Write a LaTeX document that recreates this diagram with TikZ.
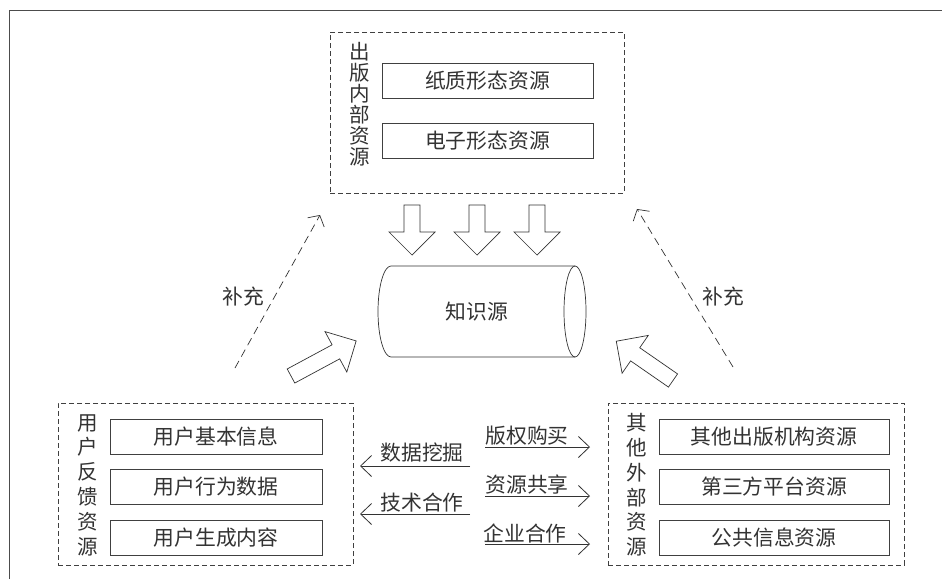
\documentclass[tikz,border=0pt]{standalone}
\usepackage{fontspec}
\setmainfont{Noto Sans CJK SC}
\usetikzlibrary{arrows.meta}
\newcommand\fatarrow[4]{%
  \begin{scope}[shift={(#1,#2)},rotate=#3]
    \draw[fatline] (0,-8) -- ({#4-23},-8) -- ({#4-23},-23) -- (#4,0) -- ({#4-23},23) -- ({#4-23},8) -- (0,8) -- cycle;
  \end{scope}}
\tikzset{
  txt/.style={font=\fontsize{20.8}{24}\selectfont, text=black!80, inner sep=0pt},
  inbox/.style={draw=black!75, line width=0.9pt, minimum height=35pt, font=\fontsize{20.8}{24}\selectfont, text=black!80, inner sep=0pt},
  grp/.style={draw=black!75, line width=0.8pt, dash pattern=on 5pt off 3pt, inner sep=0pt},
  fatline/.style={draw=black!80, line width=0.7pt, fill=white, line join=miter},
  dasharr/.style={draw=black!80, line width=0.7pt, dash pattern=on 8pt off 5pt, -{Straight Barb[length=8pt,width=19pt]}},
  midarr/.style={draw=black!80, line width=0.8pt, -{Straight Barb[length=11pt,width=21pt]}},
  vlab/.style={font=\fontsize{20.5}{21}\selectfont, text=black!80, align=center, inner sep=0pt},
  vlabb/.style={font=\fontsize{20.5}{24.8}\selectfont, text=black!80, align=center, inner sep=0pt}
}
\begin{document}
\begin{tikzpicture}[x=1pt,y=-1pt]
\useasboundingbox (0,0) rectangle (942,579);
\fill[white] (0,0) rectangle (942,579);
% outer frame
\draw[black!70, line width=0.9pt] (9,579) -- (9,10) -- (942,10);

% top group
\node[grp, minimum width=294pt, minimum height=161pt] (gtop) at (477,112.5) {};
\node[vlab] (ltop) at (360,104.5) {出\\版\\内\\部\\资\\源};
\node[inbox, minimum width=211pt] (p1) at (487.5,80.5) {纸质形态资源};
\node[inbox, minimum width=211pt] (p2) at (487.5,140.5) {电子形态资源};

% cylinder
\draw[black!80, line width=0.7pt] (575,266) -- (391,266) arc[start angle=90, end angle=270, x radius=13pt, y radius=45.5pt] -- (575,357);
\draw[black!80, line width=0.7pt] (575,311.5) ellipse [x radius=11pt, y radius=45.5pt];
\node[txt] (kn) at (477,311.5) {知识源};

% fat arrows
\fatarrow{412}{205}{-90}{50}
\fatarrow{477}{205}{-90}{50}
\fatarrow{537}{205}{-90}{50}
\fatarrow{291}{376}{28.3}{74}
\fatarrow{673}{380.5}{145.3}{69}

% dashed arrows
\coordinate (d1s) at (235,368);
\coordinate (d1e) at (320,215);
\coordinate (d2s) at (733,367);
\coordinate (d2e) at (637,209);
\draw[dasharr] (d1s) -- (d1e);
\draw[dasharr] (d2s) -- (d2e);
\node[txt] (b1) at (243,297) {补充};
\node[txt] (b2) at (723,297) {补充};

% bottom-left group
\node[grp, minimum width=295pt, minimum height=162pt] (gleft) at (205.5,484) {};
\node[vlabb] (lleft) at (88,485) {用\\户\\反\\馈\\资\\源};
\node[inbox, minimum width=212pt] (u1) at (216,436.5) {用户基本信息};
\node[inbox, minimum width=212pt] (u2) at (216,486.5) {用户行为数据};
\node[inbox, minimum width=212pt] (u3) at (216,537.5) {用户生成内容};

% bottom-right group
\node[grp, minimum width=296pt, minimum height=162pt] (gright) at (756,484) {};
\node[vlabb] (lright) at (637,485) {其\\他\\外\\部\\资\\源};
\node[inbox, minimum width=230pt] (o1) at (774,436.5) {其他出版机构资源};
\node[inbox, minimum width=230pt] (o2) at (774,486.5) {第三方平台资源};
\node[inbox, minimum width=230pt] (o3) at (774,537.5) {公共信息资源};

% middle arrows
\coordinate (la1s) at (470,466); \coordinate (la1e) at (360,466);
\coordinate (la2s) at (470,514); \coordinate (la2e) at (360,514);
\coordinate (ra1s) at (485,447); \coordinate (ra1e) at (590,447);
\coordinate (ra2s) at (485,496); \coordinate (ra2e) at (590,496);
\coordinate (ra3s) at (485,544); \coordinate (ra3e) at (590,544);
\draw[midarr] (la1s) -- (la1e);
\draw[midarr] (la2s) -- (la2e);
\draw[midarr] (ra1s) -- (ra1e);
\draw[midarr] (ra2s) -- (ra2e);
\draw[midarr] (ra3s) -- (ra3e);
\node[txt] (m1) at (422,453) {数据挖掘};
\node[txt] (m2) at (422,503) {技术合作};
\node[txt] (m3) at (527,436) {版权购买};
\node[txt] (m4) at (527,485) {资源共享};
\node[txt] (m5) at (525,533) {企业合作};
\end{tikzpicture}
\end{document}
